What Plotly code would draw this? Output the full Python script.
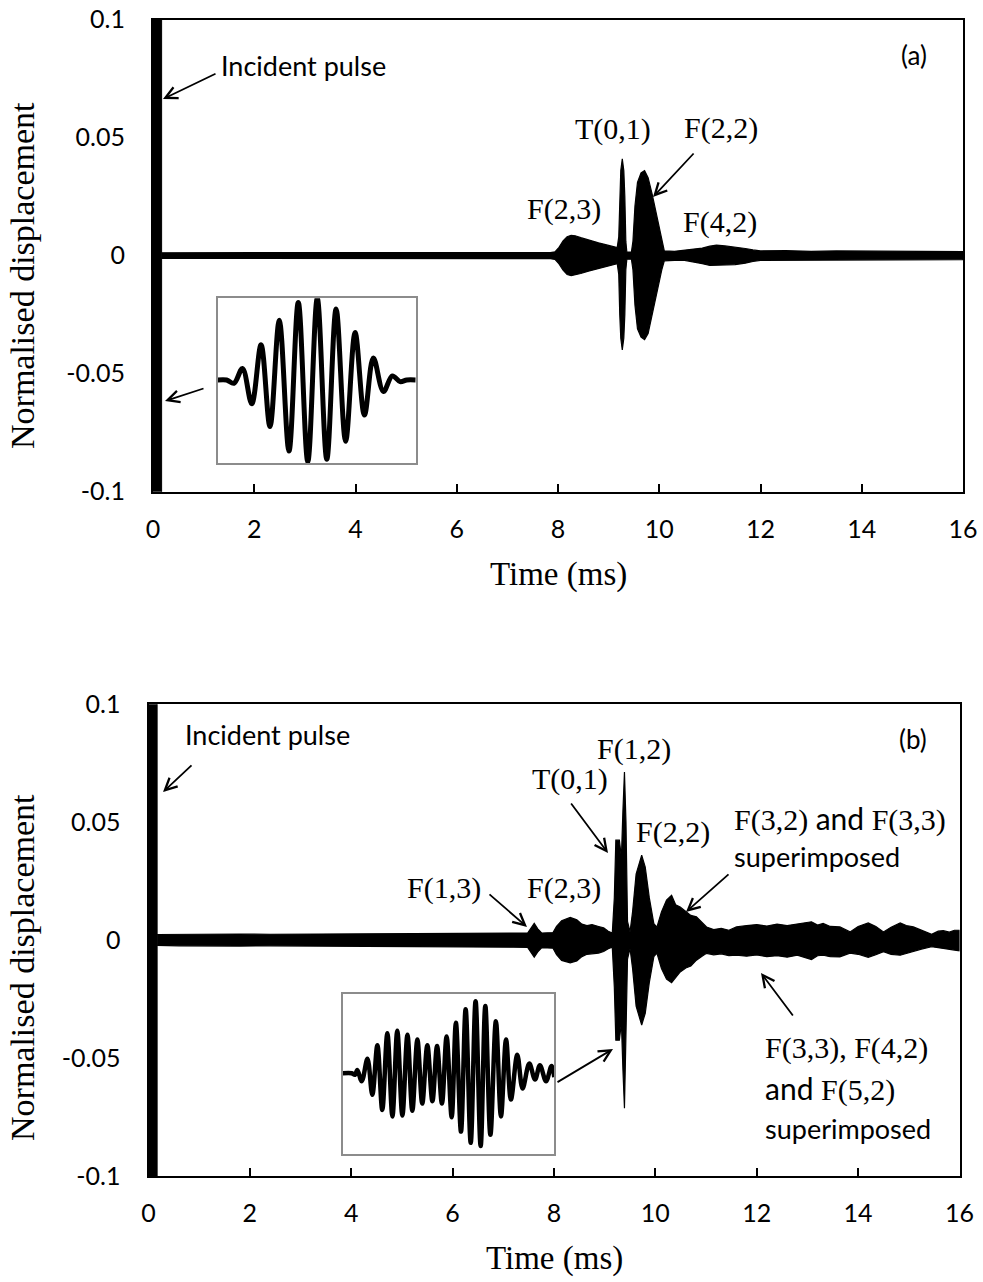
import plotly.graph_objects as go

W, H = 983, 1282
SERIF = "Liberation Serif"
SANS = "Lato"

# ---------------- data ----------------
x_tick_vals = [0, 2, 4, 6, 8, 10, 12, 14, 16]
y_tick_vals = [-0.1, -0.05, 0, 0.05, 0.1]
y_tick_text = ["-0.1", "-0.05", "0", "0.05", "0.1"]

# incident pulse (normalised amplitude 1, off the displayed scale)
incident_t = [0.0, 0.17]
incident_amp = [1.0, 1.0]

# panel (a): signal envelope (time in ms, upper / lower displacement)
a_t = [0.17, 1.0, 2.0, 3.0, 4.0, 5.0, 6.0, 7.0, 7.85, 7.94, 8.02, 8.10, 8.18, 8.26, 8.34,
       8.45, 8.6, 8.8, 9.0, 9.17, 9.20, 9.22, 9.24, 9.27, 9.30, 9.32, 9.34, 9.36, 9.45,
       9.48, 9.52, 9.57, 9.64, 9.71, 9.78, 9.86, 9.94, 10.00, 10.05, 10.10, 10.3, 10.5,
       10.7, 10.85, 11.0, 11.13, 11.3, 11.5, 11.7, 11.85, 12.0, 12.5, 13.0, 13.5, 14.0,
       14.5, 15.0, 15.5, 16.0]
a_up = [.0012, .0012, .0013, .0012, .0013, .0012, .0013, .0012, .0013, .0016, .0035, .0062,
        .0080, .0086, .0084, .0076, .0066, .0054, .0043, .0034, .0080, .0250, .0360, .0410,
        .0360, .0250, .0060, .0015, .0015, .0060, .0210, .0310, .0350, .0360, .0330, .0260,
        .0180, .0110, .0060, .0020, .0018, .0022, .0026, .0032, .0040, .0044, .0041, .0036,
        .0030, .0024, .0020, .0021, .0018, .0020, .0019, .0020, .0018, .0019, .0017]
a_lo = [-.0012, -.0013, -.0012, -.0012, -.0013, -.0012, -.0012, -.0013, -.0013, -.0016,
        -.0035, -.0062, -.0080, -.0085, -.0083, -.0076, -.0066, -.0054, -.0043, -.0034,
        -.0080, -.0250, -.0350, -.0400, -.0350, -.0250, -.0060, -.0015, -.0015, -.0060,
        -.0210, -.0310, -.0345, -.0356, -.0330, -.0260, -.0180, -.0110, -.0060, -.0022,
        -.0020, -.0020, -.0028, -.0034, -.0042, -.0042, -.0040, -.0038, -.0032, -.0025,
        -.0020, -.0018, -.0020, -.0019, -.0020, -.0018, -.0018, -.0017, -.0017]

# panel (b): signal envelope
b_t = [0.17, 0.6, 1.2, 1.8, 2.4, 3.0, 3.6, 4.2, 4.8, 5.4, 6.0, 6.6, 7.2, 7.48, 7.55, 7.61,
       7.68, 7.76, 7.98, 8.05, 8.15, 8.32, 8.45, 8.55, 8.65, 8.75, 8.88, 8.98, 9.07, 9.15,
       9.19, 9.22, 9.29, 9.33, 9.36, 9.39, 9.42, 9.45, 9.50, 9.55, 9.62, 9.73, 9.80, 9.88,
       9.97, 10.03, 10.12, 10.22, 10.32, 10.40, 10.49, 10.60, 10.70, 10.81, 10.92, 11.01,
       11.15, 11.3, 11.45, 11.6, 11.8, 12.0, 12.2, 12.4, 12.6, 12.8, 13.08, 13.2, 13.31,
       13.45, 13.64, 13.84, 14.0, 14.2, 14.35, 14.5, 14.65, 14.83, 14.95, 15.09, 15.25,
       15.45, 15.58, 15.68, 15.8, 15.9, 16.0]
b_up = [.0024, .0025, .0024, .0026, .0025, .0026, .0025, .0027, .0027, .0028, .0028, .0029,
        .0030, .0030, .0050, .0071, .0048, .0030, .0032, .0058, .0082, .0096, .0086, .0068,
        .0062, .0066, .0058, .0052, .0038, .0030, .0180, .0424, .0424, .0350, .0550, .0713,
        .0500, .0080, .0035, .0120, .0280, .0360, .0310, .0180, .0070, .0055, .0120, .0170,
        .0190, .0150, .0140, .0120, .0105, .0099, .0075, .0056, .0045, .0050, .0042, .0056,
        .0062, .0066, .0060, .0068, .0062, .0070, .0078, .0064, .0071, .0058, .0056, .0035,
        .0058, .0073, .0058, .0035, .0055, .0073, .0062, .0056, .0042, .0025, .0038, .0040,
        .0034, .0042, .0042]
b_lo = [-.0022, -.0024, -.0026, -.0025, -.0024, -.0026, -.0027, -.0026, -.0028, -.0027,
        -.0029, -.0029, -.0030, -.0031, -.0052, -.0072, -.0050, -.0032, -.0034, -.0062,
        -.0086, -.0096, -.0088, -.0070, -.0060, -.0058, -.0055, -.0048, -.0036, -.0030,
        -.0200, -.0424, -.0424, -.0350, -.0550, -.0713, -.0500, -.0080, -.0035, -.0120,
        -.0280, -.0360, -.0310, -.0180, -.0070, -.0055, -.0120, -.0165, -.0180, -.0160,
        -.0135, -.0118, -.0110, -.0085, -.0068, -.0056, -.0062, -.0058, -.0066, -.0064,
        -.0068, -.0063, -.0070, -.0066, -.0072, -.0064, -.0082, -.0066, -.0064, -.0070,
        -.0071, -.0055, -.0060, -.0073, -.0062, -.0049, -.0060, -.0064, -.0056, -.0049,
        -.0038, -.0028, -.0032, -.0035, -.0040, -.0042, -.0045]

# inset (a): incident pulse shape (relative time, relative amplitude at extrema)
ins_a_t = [0, .045, .082, .125, .172, .219, .264, .311, .360, .407, .455, .503, .551, .598,
           .646, .694, .741, .786, .837, .882, .921, .955, 1.0]
ins_a_v = [0, 0, -.04, .14, -.29, .43, -.57, .73, -.87, .95, -1.0, 1.0, -.97, .87, -.75,
           .58, -.43, .27, -.14, .05, -.02, 0, 0]

# inset (b): zoom of the T(0,1)/F(1,2) packet
ins_b_t = [0, .043, .058, .069, .090, .117, .140, .164, .187, .211, .235, .258, .282, .306,
           .329, .353, .376, .400, .424, .446, .469, .491, .515, .535, .559, .581, .605,
           .628, .652, .674, .698, .724, .748, .772, .795, .825, .850, .882, .909, .932,
           .961, .987, 1.0]
ins_b_v = [0, 0, -.02, .04, -.10, .18, -.27, .35, -.46, .50, -.54, .53, -.53, .48, -.47,
           .42, -.38, .35, -.35, .34, -.38, .46, -.55, .63, -.73, .80, -.87, .90, -.91, .84,
           -.77, .65, -.54, .42, -.33, .23, -.19, .12, -.08, .10, -.10, .09, -.05]


# ---------------- helpers ----------------
def px(x):
    return x / W


def py(y):
    return 1 - y / H


def band(t, up, lo):
    return list(t) + list(t[::-1]), list(up) + list(lo[::-1])


fig = go.Figure()

panels = [
    dict(xa="x", ya="y", t=a_t, up=a_up, lo=a_lo),
    dict(xa="x2", ya="y2", t=b_t, up=b_up, lo=b_lo),
]
for p in panels:
    xs, ys = band(incident_t, incident_amp, [-v for v in incident_amp])
    fig.add_trace(go.Scatter(x=xs, y=ys, xaxis=p["xa"], yaxis=p["ya"], mode="lines",
                             fill="toself", fillcolor="black",
                             line=dict(color="black", width=1), hoverinfo="skip"))
    xs, ys = band(p["t"], p["up"], p["lo"])
    fig.add_trace(go.Scatter(x=xs, y=ys, xaxis=p["xa"], yaxis=p["ya"], mode="lines",
                             fill="toself", fillcolor="black",
                             line=dict(color="black", width=1.2), hoverinfo="skip"))

fig.add_trace(go.Scatter(x=ins_a_t, y=ins_a_v, xaxis="x3", yaxis="y3", mode="lines",
                         line=dict(color="black", width=5, shape="spline"), hoverinfo="skip"))
fig.add_trace(go.Scatter(x=ins_b_t, y=ins_b_v, xaxis="x4", yaxis="y4", mode="lines",
                         line=dict(color="black", width=4.5, shape="spline"), hoverinfo="skip"))

tickfont = dict(family=SANS, size=25, color="black")


def main_x(domain, anchor):
    return dict(domain=domain, anchor=anchor, range=[0, 16], tickvals=x_tick_vals,
                ticks="inside", ticklen=8, tickwidth=1.5, tickcolor="black",
                showline=True, linewidth=2, linecolor="black", mirror=True,
                showgrid=False, zeroline=False, tickfont=tickfont, automargin=False,
                ticklabelstandoff=14, fixedrange=True)


def main_y(domain, anchor):
    return dict(domain=domain, anchor=anchor, range=[-0.1, 0.1], tickvals=y_tick_vals,
                ticktext=y_tick_text, ticks="", showline=True, linewidth=2,
                linecolor="black", mirror=True, showgrid=False, zeroline=False,
                tickfont=tickfont, ticklabelstandoff=21, automargin=False,
                fixedrange=True)


def inset_ax(domain, anchor, rng):
    return dict(domain=domain, anchor=anchor, range=rng, showline=True, mirror=True,
                linecolor="#8c8c8c", linewidth=1.6, showticklabels=False, ticks="",
                showgrid=False, zeroline=False, automargin=False, fixedrange=True)


annotations = []


def text(x, y, s, font, size, xanchor="center", angle=0):
    annotations.append(dict(x=px(x), y=py(y), xref="paper", yref="paper", text=s,
                            showarrow=False, xanchor=xanchor, yanchor="middle",
                            textangle=angle,
                            font=dict(family=font, size=size, color="black")))


def arrow(tail, tip):
    annotations.append(dict(x=px(tip[0]), y=py(tip[1]), xref="paper", yref="paper",
                            ax=tail[0] - tip[0], ay=tail[1] - tip[1], axref="pixel",
                            ayref="pixel", text="", showarrow=True, arrowhead=5,
                            arrowsize=1.3, arrowwidth=1.8, arrowcolor="black",
                            standoff=0))


# panel (a)
text(219, 66, "Incident pulse", SANS, 27, xanchor="left")
arrow((217, 73), (163, 99))
arrow((205, 388), (165, 401))
text(914, 55, "(a)", SANS, 26)
text(613, 129, "T(0,1)", SERIF, 30)
text(721, 128, "F(2,2)", SERIF, 30)
arrow((695, 152), (653, 197))
text(564, 209, "F(2,3)", SERIF, 30)
text(720, 222, "F(4,2)", SERIF, 30)
text(558, 574, "Time (ms)", SERIF, 33)
text(22, 276, "Normalised displacement", SERIF, 34, angle=-90)

# panel (b)
text(183, 734, "Incident pulse", SANS, 27, xanchor="left")
arrow((193, 764), (163, 792))
text(913, 739, "(b)", SANS, 26)
text(634, 749, "F(1,2)", SERIF, 30)
text(570, 779, "T(0,1)", SERIF, 30)
arrow((570, 802), (608, 853))
text(673, 832, "F(2,2)", SERIF, 30)
text(732, 818, 'F(3,2) <span style="font-family:Lato">and</span> F(3,3)', SERIF, 30,
     xanchor="left")
text(732, 856, "superimposed", SANS, 27, xanchor="left")
arrow((730, 873), (686, 912))
text(564, 888, "F(2,3)", SERIF, 30)
text(444, 888, "F(1,3)", SERIF, 30)
arrow((488, 893), (527, 927))
arrow((556, 1083), (613, 1049))
text(763, 1048, "F(3,3), F(4,2)", SERIF, 30, xanchor="left")
text(763, 1088, '<span style="font-family:Lato">and</span> F(5,2)', SERIF, 30,
     xanchor="left")
text(763, 1128, "superimposed", SANS, 27, xanchor="left")
arrow((794, 1017), (761, 973))
text(554, 1258, "Time (ms)", SERIF, 33)
text(22, 968, "Normalised displacement", SERIF, 34, angle=-90)

fig.update_layout(
    width=W, height=H, autosize=False,
    margin=dict(l=0, r=0, t=0, b=0, pad=0, autoexpand=False),
    paper_bgcolor="white", plot_bgcolor="white",
    showlegend=False,
    xaxis=main_x([px(153), px(963)], "y"),
    yaxis=main_y([py(491.7), py(19.5)], "x"),
    xaxis2=main_x([px(148.5), px(959.5)], "y2"),
    yaxis2=main_y([py(1176), py(704.3)], "x2"),
    xaxis3=inset_ax([px(217.7), px(415.7)], "y3", [0, 1]),
    yaxis3=inset_ax([py(463.3), py(298.3)], "x3", [-1.02, 1.0]),
    xaxis4=inset_ax([px(342.7), px(554.3)], "y4", [0, 1]),
    yaxis4=inset_ax([py(1154), py(994)], "x4", [-1.01, 0.99]),
    annotations=annotations,
)

fig.write_html("out.html")
